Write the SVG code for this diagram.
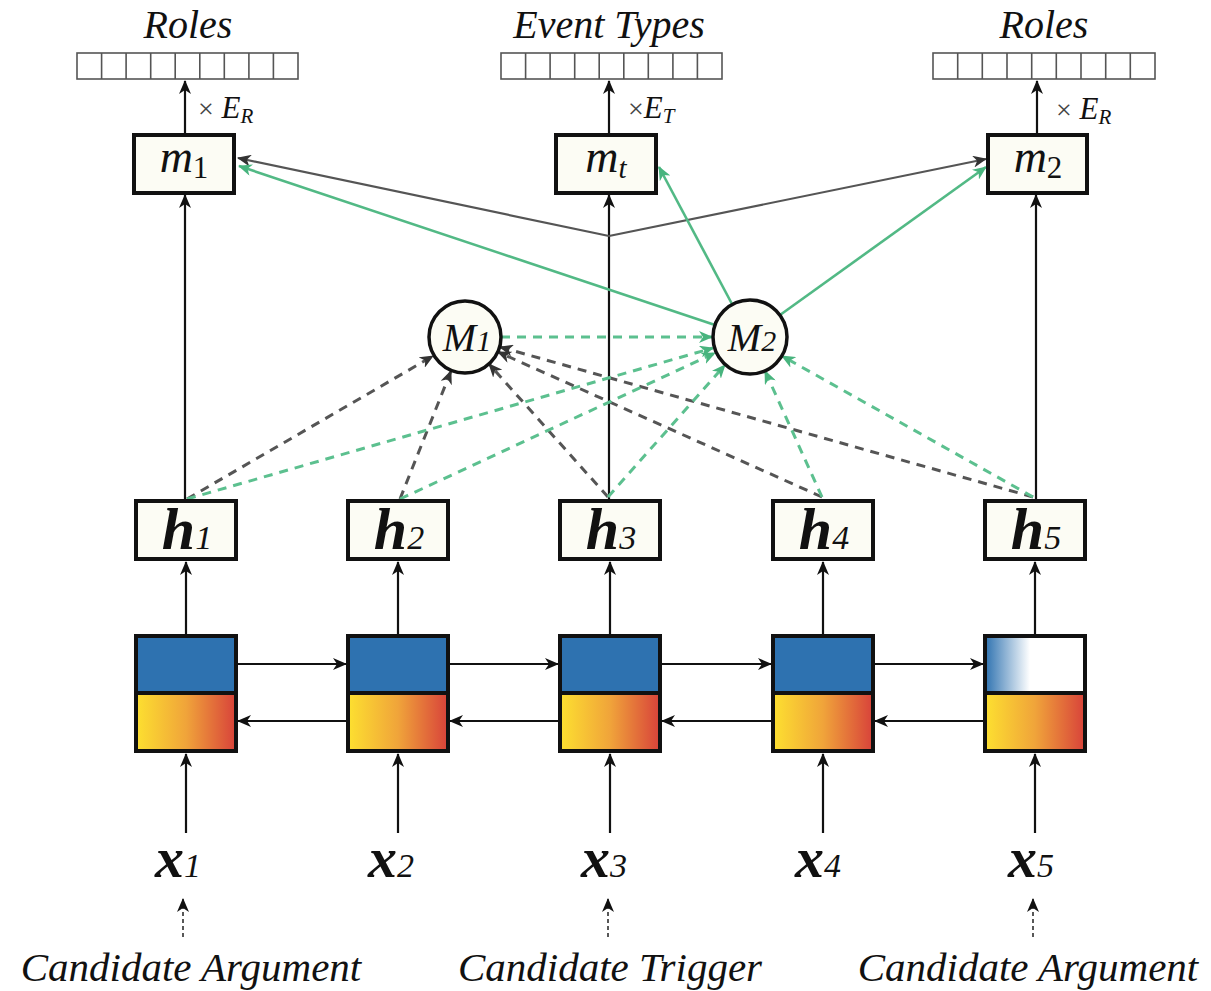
<svg xmlns="http://www.w3.org/2000/svg" width="1211" height="991" viewBox="0 0 1211 991" font-family="Liberation Serif, Tinos, Times New Roman, serif">
<style>
text{font-family:Liberation Serif, Tinos, Times New Roman, serif}
.t{font-style:italic;fill:#111}
.big{font-size:40px}
.cand{font-size:41px}
.mm{font-size:46px}
.sub{font-style:normal}
.box{fill:#fcfcf4;stroke:#111;stroke-width:4}
.cell{fill:none;stroke:#111;stroke-width:4}
.vec{fill:#fff;stroke:#555;stroke-width:1.6}
.k{stroke:#111;stroke-width:2.2;fill:none}
.g{stroke:#555;stroke-width:2.2;fill:none}
.gr{stroke:#52b985;stroke-width:2.6;fill:none}
.dk{stroke:#555;stroke-width:3;fill:none;stroke-dasharray:9 7}
.dg{stroke:#5cc08f;stroke-width:3;fill:none;stroke-dasharray:9 7}
.ds{stroke:#222;stroke-width:1.5;fill:none;stroke-dasharray:4 3}
</style>
<defs>
<marker id="ak" viewBox="0 0 14 12" refX="13" refY="6" markerWidth="14" markerHeight="12" markerUnits="userSpaceOnUse" orient="auto"><path d="M0,0 L14,6 L0,12 L4,6 Z" fill="#111"/></marker>
<marker id="ag" viewBox="0 0 14 12" refX="13" refY="6" markerWidth="14" markerHeight="12" markerUnits="userSpaceOnUse" orient="auto"><path d="M0,0 L14,6 L0,12 L4,6 Z" fill="#333"/></marker>
<marker id="agr" viewBox="0 0 14 12" refX="13" refY="6" markerWidth="14" markerHeight="12" markerUnits="userSpaceOnUse" orient="auto"><path d="M0,0 L14,6 L0,12 L4,6 Z" fill="#48b47e"/></marker>
<linearGradient id="warm" x1="0" y1="0" x2="1" y2="0"><stop offset="0" stop-color="#fde030"/><stop offset="0.5" stop-color="#f0a43a"/><stop offset="1" stop-color="#d8423a"/></linearGradient>
<linearGradient id="fade" x1="0" y1="0" x2="1" y2="0"><stop offset="0" stop-color="#2e72b0"/><stop offset="0.45" stop-color="#ffffff"/><stop offset="1" stop-color="#ffffff"/></linearGradient>
</defs>

<g id="connectors">
  <line class="k" x1="185" y1="135" x2="185" y2="81" marker-end="url(#ak)"/>
  <line class="k" x1="609" y1="135" x2="609" y2="81" marker-end="url(#ak)"/>
  <line class="k" x1="1037" y1="135" x2="1037" y2="81" marker-end="url(#ak)"/>
  <line class="k" x1="185" y1="501" x2="185" y2="195" marker-end="url(#ak)"/>
  <line class="k" x1="609" y1="501" x2="609" y2="195" marker-end="url(#ak)"/>
  <line class="k" x1="1036" y1="501" x2="1036" y2="195" marker-end="url(#ak)"/>
  <path class="g" d="M609,236 L238,158" marker-end="url(#ag)"/>
  <path class="g" d="M609,236 L986,159" marker-end="url(#ag)"/>
  <path class="gr" d="M715,325 L239,166" marker-end="url(#agr)"/>
  <path class="gr" d="M732,304 L659,167" marker-end="url(#agr)"/>
  <path class="gr" d="M780,315 L986,167" marker-end="url(#agr)"/>
  <path class="dk" d="M187,499 L433,356" marker-end="url(#ag)"/>
  <path class="dk" d="M400,499 L451,371" marker-end="url(#ag)"/>
  <path class="dk" d="M608,497 L489,364" marker-end="url(#ag)"/>
  <path class="dk" d="M822,497 L498,352" marker-end="url(#ag)"/>
  <path class="dk" d="M1033,497 L500,347" marker-end="url(#ag)"/>
  <path class="dg" d="M501,337 L712,337" marker-end="url(#agr)"/>
  <path class="dg" d="M187,499 L713,348" marker-end="url(#agr)"/>
  <path class="dg" d="M400,499 L715,353" marker-end="url(#agr)"/>
  <path class="dg" d="M608,497 L725,365" marker-end="url(#agr)"/>
  <path class="dg" d="M822,497 L765,371" marker-end="url(#agr)"/>
  <path class="dg" d="M1033,497 L782,356" marker-end="url(#agr)"/>
  <line class="k" x1="186" y1="636" x2="186" y2="562" marker-end="url(#ak)"/>
  <line class="k" x1="398" y1="636" x2="398" y2="562" marker-end="url(#ak)"/>
  <line class="k" x1="610" y1="636" x2="610" y2="562" marker-end="url(#ak)"/>
  <line class="k" x1="823" y1="636" x2="823" y2="562" marker-end="url(#ak)"/>
  <line class="k" x1="1035" y1="636" x2="1035" y2="562" marker-end="url(#ak)"/>
  <line class="k" x1="236" y1="664" x2="346" y2="664" marker-end="url(#ak)"/>
  <line class="k" x1="448" y1="664" x2="558" y2="664" marker-end="url(#ak)"/>
  <line class="k" x1="660" y1="664" x2="771" y2="664" marker-end="url(#ak)"/>
  <line class="k" x1="873" y1="664" x2="983" y2="664" marker-end="url(#ak)"/>
  <line class="k" x1="348" y1="721" x2="238" y2="721" marker-end="url(#ak)"/>
  <line class="k" x1="560" y1="721" x2="450" y2="721" marker-end="url(#ak)"/>
  <line class="k" x1="773" y1="721" x2="662" y2="721" marker-end="url(#ak)"/>
  <line class="k" x1="985" y1="721" x2="875" y2="721" marker-end="url(#ak)"/>
  <line class="k" x1="186" y1="833" x2="186" y2="754" marker-end="url(#ak)"/>
  <line class="k" x1="398" y1="833" x2="398" y2="754" marker-end="url(#ak)"/>
  <line class="k" x1="610" y1="833" x2="610" y2="754" marker-end="url(#ak)"/>
  <line class="k" x1="823" y1="833" x2="823" y2="754" marker-end="url(#ak)"/>
  <line class="k" x1="1035" y1="833" x2="1035" y2="754" marker-end="url(#ak)"/>
  <line class="ds" x1="183" y1="937" x2="183" y2="899" marker-end="url(#ak)"/>
  <line class="ds" x1="608" y1="937" x2="608" y2="899" marker-end="url(#ak)"/>
  <line class="ds" x1="1033" y1="937" x2="1033" y2="899" marker-end="url(#ak)"/>
</g>

<g id="roles-left">
  <rect class="vec" x="77" y="53" width="221" height="26"/>
  <path class="vec" d="M101.6,53V79M126.1,53V79M150.7,53V79M175.2,53V79M199.8,53V79M224.3,53V79M248.9,53V79M273.4,53V79"/>
  <text class="t big" x="188" y="38" text-anchor="middle">Roles</text>
</g>
<g id="event-types">
  <rect class="vec" x="501" y="53" width="221" height="26"/>
  <path class="vec" d="M525.6,53V79M550.1,53V79M574.7,53V79M599.2,53V79M623.8,53V79M648.3,53V79M672.9,53V79M697.4,53V79"/>
  <text class="t big" x="609" y="38" text-anchor="middle">Event Types</text>
</g>
<g id="roles-right">
  <rect class="vec" x="933" y="53" width="222" height="26"/>
  <path class="vec" d="M957.7,53V79M982.3,53V79M1007,53V79M1031.7,53V79M1056.3,53V79M1081,53V79M1105.7,53V79M1130.3,53V79"/>
  <text class="t big" x="1044" y="38" text-anchor="middle">Roles</text>
</g>
<g id="labels-E">
  <text class="t" x="198" y="118" font-size="31"><tspan font-style="normal" font-size="28" fill="#444">×</tspan> E<tspan font-size="21" dy="5">R</tspan></text>
  <text class="t" x="628" y="118" font-size="31"><tspan font-style="normal" font-size="28" fill="#444">×</tspan>E<tspan font-size="21" dy="5">T</tspan></text>
  <text class="t" x="1056" y="119" font-size="31"><tspan font-style="normal" font-size="28" fill="#444">×</tspan> E<tspan font-size="21" dy="5">R</tspan></text>
</g>

<g id="m1"><rect class="box" x="134" y="135" width="100" height="58"/>
  <text class="t mm" x="184" y="172" text-anchor="middle">m<tspan class="sub" font-size="31" dy="6">1</tspan></text></g>
<g id="mt"><rect class="box" x="556" y="135" width="100" height="58"/>
  <text class="t mm" x="606" y="172" text-anchor="middle">m<tspan font-size="29" dy="6">t</tspan></text></g>
<g id="m2"><rect class="box" x="988" y="135" width="99" height="58"/>
  <text class="t mm" x="1038" y="172" text-anchor="middle">m<tspan class="sub" font-size="31" dy="6">2</tspan></text></g>

<g id="M1"><circle cx="465" cy="337" r="36" fill="#fcfcf4" stroke="#111" stroke-width="3.5"/>
  <text class="t" x="467" y="351" font-size="40" text-anchor="middle">M<tspan font-size="30">1</tspan></text></g>
<g id="M2"><circle cx="750" cy="337" r="37" fill="#fcfcf4" stroke="#111" stroke-width="3.5"/>
  <text class="t" x="752" y="351" font-size="40" text-anchor="middle">M<tspan font-size="30">2</tspan></text></g>

<g id="h1"><rect class="box" x="136" y="501" width="100" height="58"/><text class="t" x="187" y="549" text-anchor="middle" font-size="60" font-weight="bold">h<tspan font-size="34" font-weight="normal">1</tspan></text></g>
<g id="h2"><rect class="box" x="348" y="501" width="100" height="58"/><text class="t" x="399" y="549" text-anchor="middle" font-size="60" font-weight="bold">h<tspan font-size="34" font-weight="normal">2</tspan></text></g>
<g id="h3"><rect class="box" x="560" y="501" width="100" height="58"/><text class="t" x="611" y="549" text-anchor="middle" font-size="60" font-weight="bold">h<tspan font-size="34" font-weight="normal">3</tspan></text></g>
<g id="h4"><rect class="box" x="773" y="501" width="100" height="58"/><text class="t" x="824" y="549" text-anchor="middle" font-size="60" font-weight="bold">h<tspan font-size="34" font-weight="normal">4</tspan></text></g>
<g id="h5"><rect class="box" x="985" y="501" width="100" height="58"/><text class="t" x="1036" y="549" text-anchor="middle" font-size="60" font-weight="bold">h<tspan font-size="34" font-weight="normal">5</tspan></text></g>

<g id="cell1"><rect x="136" y="636" width="100" height="57" fill="#2e72b0"/><rect x="136" y="693" width="100" height="58" fill="url(#warm)"/><rect class="cell" x="136" y="636" width="100" height="115"/><line x1="136" y1="693" x2="236" y2="693" stroke="#111" stroke-width="4"/></g>
<g id="cell2"><rect x="348" y="636" width="100" height="57" fill="#2e72b0"/><rect x="348" y="693" width="100" height="58" fill="url(#warm)"/><rect class="cell" x="348" y="636" width="100" height="115"/><line x1="348" y1="693" x2="448" y2="693" stroke="#111" stroke-width="4"/></g>
<g id="cell3"><rect x="560" y="636" width="100" height="57" fill="#2e72b0"/><rect x="560" y="693" width="100" height="58" fill="url(#warm)"/><rect class="cell" x="560" y="636" width="100" height="115"/><line x1="560" y1="693" x2="660" y2="693" stroke="#111" stroke-width="4"/></g>
<g id="cell4"><rect x="773" y="636" width="100" height="57" fill="#2e72b0"/><rect x="773" y="693" width="100" height="58" fill="url(#warm)"/><rect class="cell" x="773" y="636" width="100" height="115"/><line x1="773" y1="693" x2="873" y2="693" stroke="#111" stroke-width="4"/></g>
<g id="cell5"><rect x="985" y="636" width="100" height="57" fill="url(#fade)"/><rect x="985" y="693" width="100" height="58" fill="url(#warm)"/><rect class="cell" x="985" y="636" width="100" height="115"/><line x1="985" y1="693" x2="1085" y2="693" stroke="#111" stroke-width="4"/></g>

<g id="x1"><text class="t" x="178" y="877" text-anchor="middle" font-size="58" font-weight="bold">x<tspan font-size="34" font-weight="normal">1</tspan></text></g>
<g id="x2"><text class="t" x="391" y="877" text-anchor="middle" font-size="58" font-weight="bold">x<tspan font-size="34" font-weight="normal">2</tspan></text></g>
<g id="x3"><text class="t" x="604" y="877" text-anchor="middle" font-size="58" font-weight="bold">x<tspan font-size="34" font-weight="normal">3</tspan></text></g>
<g id="x4"><text class="t" x="818" y="877" text-anchor="middle" font-size="58" font-weight="bold">x<tspan font-size="34" font-weight="normal">4</tspan></text></g>
<g id="x5"><text class="t" x="1031" y="877" text-anchor="middle" font-size="58" font-weight="bold">x<tspan font-size="34" font-weight="normal">5</tspan></text></g>

<g id="cand-arg1"><text class="t cand" x="191" y="981" text-anchor="middle">Candidate Argument</text></g>
<g id="cand-trig"><text class="t cand" x="610" y="981" text-anchor="middle">Candidate Trigger</text></g>
<g id="cand-arg2"><text class="t cand" x="1028" y="981" text-anchor="middle">Candidate Argument</text></g>
</svg>
